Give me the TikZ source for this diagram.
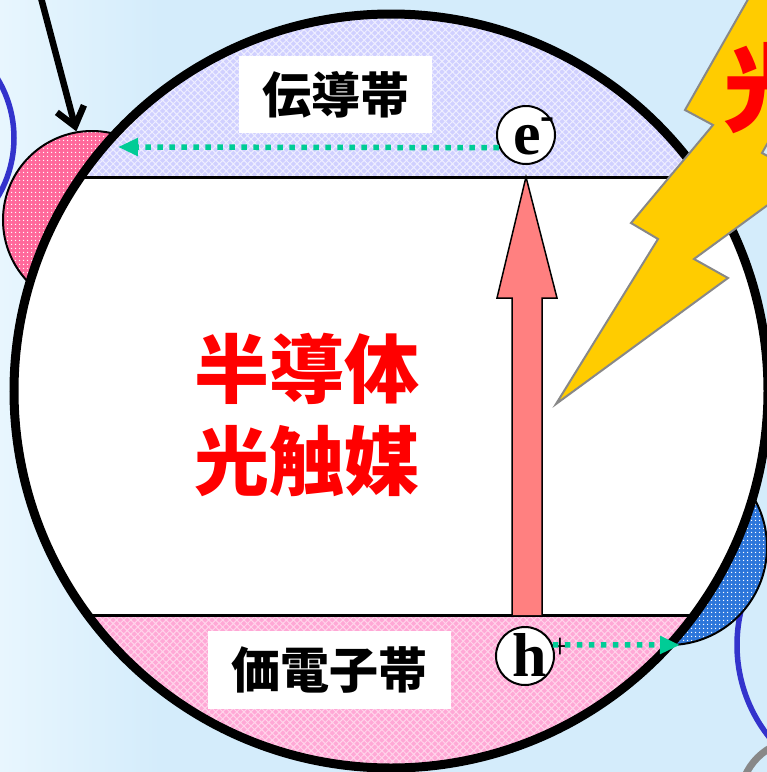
\documentclass[tikz,border=0pt]{standalone}
\usepackage{fontspec}
\setmainfont{Liberation Serif}
\IfFontExistsTF{Noto Sans CJK JP Black}
  {\newfontfamily\jpheavy{Noto Sans CJK JP Black}}
  {\newfontfamily\jpheavy{Noto Sans CJK JP}[FakeBold=3]}
\usetikzlibrary{arrows.meta,patterns.meta,calc}

\definecolor{skybg}{RGB}{212,236,251}
\definecolor{skyleft}{RGB}{232,246,254}
\definecolor{cbfill}{RGB}{208,208,255}
\definecolor{cbhatch}{RGB}{238,238,255}
\definecolor{vbfill}{RGB}{255,168,214}
\definecolor{vbhatch}{RGB}{255,212,234}
\definecolor{pinkball}{RGB}{255,105,155}
\definecolor{blueball}{RGB}{45,118,218}
\definecolor{loopblue}{RGB}{51,51,204}
\definecolor{flowgreen}{RGB}{0,204,150}
\definecolor{arrowred}{RGB}{255,128,128}
\definecolor{boltyellow}{RGB}{255,204,0}
\definecolor{boltedge}{RGB}{136,136,136}

\begin{document}
\begin{tikzpicture}[x=1pt,y=-1pt,
  ball/.style={circle,inner sep=0pt,draw=black,line width=2pt,
    pattern={Dots[distance=4pt,radius=0.9pt]},pattern color=white},
  bandline/.style={draw=black,line width=3pt},
  bandlabel/.style={fill=white,inner sep=0pt,text=black,
    font=\jpheavy\fontsize{49}{49}\selectfont},
  carrier/.style={circle,draw=black,line width=2pt,fill=white,
    minimum size=58pt,inner sep=0pt},
  carriertext/.style={inner sep=0pt,font=\bfseries\fontsize{62}{62}\selectfont},
  signtext/.style={inner sep=0pt,font=\bfseries\fontsize{42}{42}\selectfont},
  plustext/.style={inner sep=0pt,font=\fontsize{36}{36}\selectfont},
  flow/.style={draw=flowgreen,line width=5.5pt,dash pattern=on 5.5pt off 6.5pt,
    -{Triangle[length=20pt,width=17pt]}},
  blockarrow/.style={fill=arrowred,draw=black,line width=1.5pt,line join=miter},
  pointer/.style={draw=black,line width=6.5pt,
    -{Straight Barb[length=18pt,width=28pt,line width=6.5pt]}},
  titletext/.style={text=red,align=center,inner sep=0pt,
    font=\jpheavy\fontsize{75}{92}\selectfont},
]
\useasboundingbox (0,0) rectangle (767,772);
\clip (0,0) rectangle (767,772);

% sky background
\fill[skybg] (0,0) rectangle (767,772);
\shade[left color=skyleft,right color=skybg] (0,0) rectangle (160,772);

% outlines of neighbouring molecules
\draw[loopblue,line width=5.5pt] (-101,138) circle (115);
\draw[loopblue,line width=5.5pt] (885,645) circle (148);
\draw[boltedge,line width=7pt] (800,800) circle (60);

% adsorbed particles
\node[ball,preaction={fill=pinkball},minimum size=178pt] (pinkball) at (92,220) {};
\node[ball,preaction={fill=blueball},minimum size=196pt] (blueball) at (669,547) {};

% semiconductor particle
\coordinate (O) at (391,391);
\coordinate (cbedge) at (526,177);
\coordinate (vbedge) at (526,615);
\fill[white] (O) circle (377);
\begin{scope}
  \clip (O) circle (377);
  \fill[cbfill] (0,0) rectangle (767,177);
  \fill[pattern={Hatch[angle=45,distance=5pt,line width=1pt]},pattern color=cbhatch]
    (0,0) rectangle (767,177);
  \fill[vbfill] (0,615) rectangle (767,772);
  \fill[pattern={Hatch[angle=45,distance=5pt,line width=1pt]},pattern color=vbhatch]
    (0,615) rectangle (767,772);
  \draw[bandline] (0,177) -- (cbedge) -- (767,177);
  \draw[bandline] (0,615) -- (vbedge) -- (767,615);
\end{scope}
\draw[line width=9pt] (O) circle (377);

% incoming pointer
\coordinate (ptrstart) at (40,-6);
\draw[pointer] (ptrstart) -- (pinkball.100);

% band labels
\node[bandlabel,minimum width=193pt,minimum height=77pt] (cblabel) at (335.5,94.5) {伝導帯};
\node[bandlabel,minimum width=243pt,minimum height=78pt] (vblabel) at (329.5,670) {価電子帯};

% title
\node[titletext] (title) at (307,415) {半導体\\光触媒};

% excitation arrow
\draw[blockarrow] ($(vbedge)+(-14,0)$) -- ($(cbedge)+(-14,121)$) -- ($(cbedge)+(-29,121)$)
  -- (cbedge) -- ($(cbedge)+(31,121)$) -- ($(cbedge)+(16,121)$) -- ($(vbedge)+(16,0)$);

% electron and hole
\node[carrier] (e) at (526,135) {};
\node[carriertext] (etxt) at (527,140) {e};
\node[signtext] (esign) at (547,124) {-};
\node[carrier] (h) at (525,656) {};
\node[carriertext] (htxt) at (530,655) {h};
\node[plustext] (hsign) at (560,648) {+};

% carrier transfer
\coordinate (cbexit) at (118,147);
\coordinate (vbexit) at (680,645);
\draw[flow] (e.205) -- (cbexit);
\draw[flow] (h.22) -- (vbexit);

% light
\filldraw[fill=boltyellow,draw=boltedge,line width=2pt,line join=miter]
  (759,-20) -- (685,110) -- (713,125) -- (631,223) -- (658,239) -- (556,404)
  -- (728,278) -- (694,259) -- (806,177) -- (762,153) -- (861,-20) -- cycle;
\node[text=red,anchor=west,inner sep=0pt,font=\jpheavy\fontsize{96}{96}\selectfont]
  (light) at (723,88) {光};
\end{tikzpicture}
\end{document}
